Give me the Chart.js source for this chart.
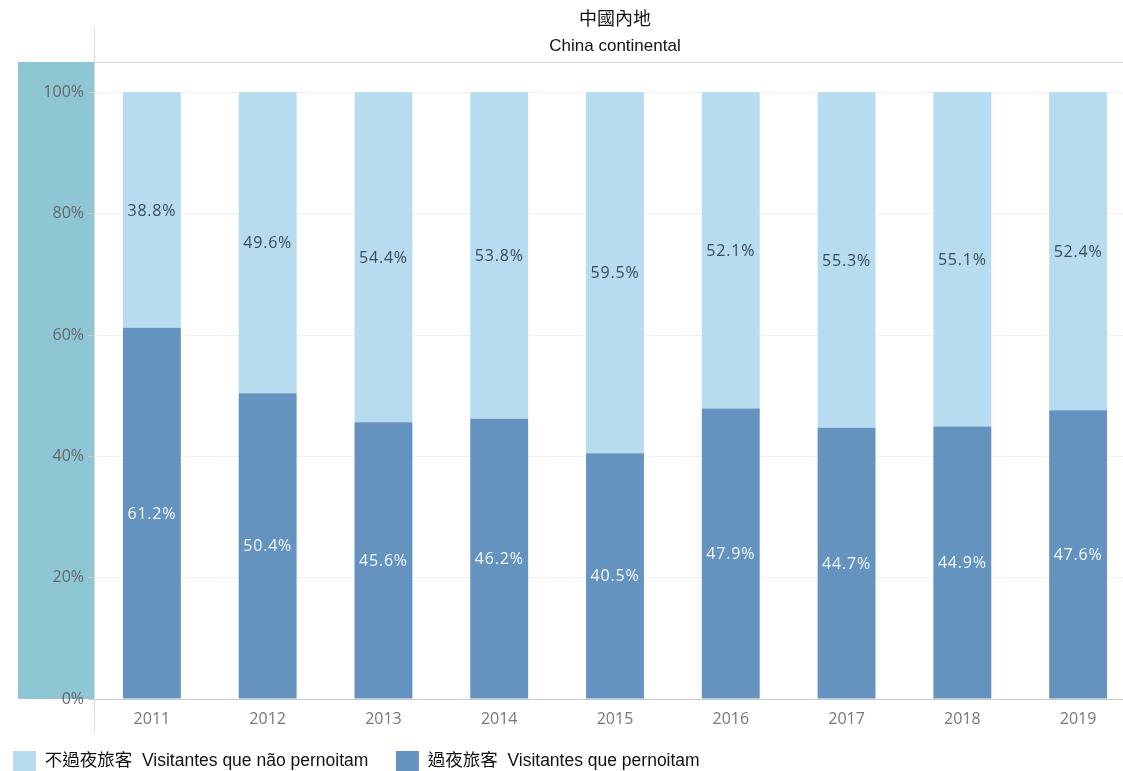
<!DOCTYPE html>
<html>
<head>
<meta charset="utf-8">
<script src="https://cdn.jsdelivr.net/npm/chart.js@4/dist/chart.umd.min.js"></script>
<style>
html,body{margin:0;padding:0;background:#fff;overflow:hidden;width:1123px;height:771px;}
#wrap{position:absolute;left:0;top:0;width:1140px;height:782px;}
</style>
</head>
<body>
<div id="wrap"><canvas id="c" width="1140" height="782"></canvas></div>
<script>
const years = ['2011','2012','2013','2014','2015','2016','2017','2018','2019'];
const overnight = [61.2, 50.4, 45.6, 46.2, 40.5, 47.9, 44.7, 44.9, 47.6];
const sameDay = [38.8, 49.6, 54.4, 53.8, 59.5, 52.1, 55.3, 55.1, 52.4];
const yTicks = [0, 20, 40, 60, 80, 100];
const titleLines = ['中國內地', 'China continental'];
const legendNames = ['過夜旅客  Visitantes que pernoitam', '不過夜旅客  Visitantes que não pernoitam   '];

const dark = '#6593bf';
const light = '#b7dbef';

const decor = {
  id: 'decor',
  beforeDraw(chart) {
    const {ctx, chartArea: a} = chart;
    ctx.save();
    ctx.fillStyle = '#8ec6d4';
    ctx.fillRect(18, a.top, a.left - 18, a.bottom - a.top);
    ctx.restore();
  },
  afterDraw(chart) {
    const {ctx, chartArea: a} = chart;
    ctx.save();
    ctx.strokeStyle = '#d9d9d9';
    ctx.lineWidth = 1;
    ctx.beginPath();
    ctx.moveTo(a.left + 0.5, 28); ctx.lineTo(a.left + 0.5, 732);
    ctx.moveTo(a.left, a.top + 0.5); ctx.lineTo(a.right, a.top + 0.5);
    ctx.stroke();
    ctx.fillStyle = '#111';
    ctx.textAlign = 'center';
    ctx.textBaseline = 'middle';
    const cx = (a.left + a.right) / 2;
    ctx.font = '18px "Liberation Sans", Arial, "Noto Sans CJK TC", sans-serif';
    ctx.fillText(titleLines[0], cx, 20);
    ctx.font = '17px "Liberation Sans", Arial, sans-serif';
    ctx.fillText(titleLines[1], cx, 46);
    // value labels centred in each segment
    ctx.font = '16px "Open Sans", sans-serif';
    try { ctx.letterSpacing = '0.8px'; } catch (e) {}
    chart.data.datasets.forEach((ds, di) => {
      const meta = chart.getDatasetMeta(di);
      meta.data.forEach((bar, i) => {
        const mid = (bar.y + bar.base) / 2;
        ctx.fillStyle = di === 0 ? '#f4f8fc' : '#3d4a57';
        ctx.fillText(ds.data[i].toFixed(1) + '%', bar.x, mid + 1);
      });
    });
    ctx.restore();
  }
};

new Chart(document.getElementById('c'), {
  type: 'bar',
  data: {
    labels: years,
    datasets: [
      {label: legendNames[0], data: overnight, backgroundColor: dark, barPercentage: 0.5, categoryPercentage: 1},
      {label: legendNames[1], data: sameDay, backgroundColor: light, barPercentage: 0.5, categoryPercentage: 1}
    ]
  },
  options: {
    responsive: false,
    animation: false,
    layout: {padding: {top: 62, left: 0, right: 4, bottom: 0}},
    plugins: {
      title: {display: false},
      tooltip: {enabled: false},
      legend: {
        display: true,
        position: 'bottom',
        align: 'start',
        reverse: true,
        labels: {
          boxWidth: 23,
          boxHeight: 21,
          padding: 13,
          color: '#111',
          font: {size: 17.5, family: '"Liberation Sans", Arial, "Noto Sans CJK TC", sans-serif'}
        }
      }
    },
    scales: {
      x: {
        stacked: true,
        grid: {display: false, drawTicks: false},
        border: {display: true, color: '#cccccc'},
        ticks: {color: '#777', font: {size: 16, family: '"Open Sans", sans-serif'}, padding: 11},
        afterFit(s) { s.height = 39; }
      },
      y: {
        stacked: true,
        min: 0,
        max: 105,
        afterBuildTicks(s) { s.ticks = yTicks.map(v => ({value: v})); },
        grid: {color: '#f1f1f1', tickLength: 6, tickColor: '#cfcfcf'},
        border: {display: false},
        ticks: {color: '#666', padding: 4, font: {size: 16, family: '"Open Sans", sans-serif'}, callback: v => v + '%'},
        afterFit(s) { s.width = 94; }
      }
    }
  },
  plugins: [decor]
});
</script>
</body>
</html>
